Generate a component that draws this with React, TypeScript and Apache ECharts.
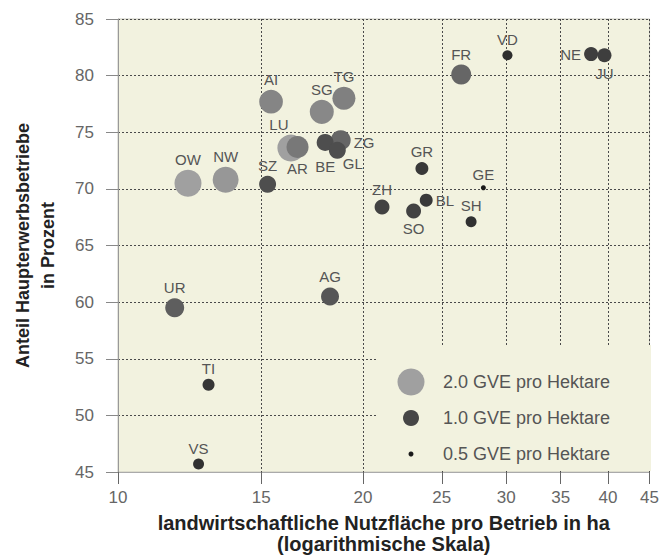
import React, { useEffect, useRef } from "react";
import * as echarts from "echarts";

// Cantons (draw order matters for overlaps)
const cantons = ["OW", "NW", "SZ", "AI", "LU", "AR", "SG", "TG", "ZG", "BE", "GL", "FR", "VD", "NE", "JU", "GR", "GE", "ZH", "BL", "SO", "SH", "UR", "AG", "TI", "VS"];
// landwirtschaftliche Nutzfläche pro Betrieb (ha)
const farmArea = [12.19, 13.56, 15.27, 15.42, 16.31, 16.62, 17.8, 18.95, 18.78, 17.97, 18.6, 26.41, 30.1, 38.14, 39.61, 23.63, 28.12, 21.11, 23.92, 23.08, 27.16, 11.74, 18.22, 12.92, 12.56];
// Anteil Haupterwerbsbetriebe (%)
const fullTimeShare = [70.5, 70.8, 70.4, 77.7, 73.6, 73.7, 76.8, 78.0, 74.3, 74.1, 73.4, 80.1, 81.8, 81.9, 81.8, 71.8, 70.1, 68.4, 69.0, 68.05, 67.1, 59.5, 60.5, 52.7, 45.7];
// GVE pro Hektare
const livestockDensity = [2.0, 1.9, 1.09, 1.7, 2.0, 1.55, 1.73, 1.64, 1.36, 1.09, 1.09, 1.36, 0.73, 0.91, 0.91, 0.86, 0.5, 0.95, 0.86, 0.95, 0.77, 1.27, 1.18, 0.82, 0.77];

const xTickValues = [10, 15, 20, 25, 30, 35, 40, 45];
const legendDensities = [2.0, 1.0, 0.5];
const legendLabels = ["2.0 GVE pro Hektare", "1.0 GVE pro Hektare", "0.5 GVE pro Hektare"];

const FONT = '"Liberation Sans", Arial, Helvetica, sans-serif';
const PLOT_BG = "#f2f2df";

// label placement for each canton (default: top)
const labelPlacement: Record<string, { position: string; offset?: [number, number] }> = {
  LU: { position: "top", offset: [-12, 0] },
  AR: { position: "bottom" },
  BE: { position: "bottom", offset: [0, 5] },
  GL: { position: "right", offset: [-6, 13] },
  ZG: { position: "right", offset: [0, 2] },
  NE: { position: "left" },
  JU: { position: "bottom", offset: [0, 1] },
  BL: { position: "right" },
  SO: { position: "bottom" },
};

function sizeFor(g: number): number {
  if (g <= 1) return 5 + (g - 0.5) * 22;
  return 16 + (g - 1) * 11;
}
function colorFor(g: number): string {
  let v: number;
  if (g <= 1) v = 25 + (g - 0.5) * 90;
  else v = 70 + (g - 1) * 90;
  v = Math.max(0, Math.min(255, Math.round(v)));
  return `rgb(${v},${v},${v})`;
}

export default function App() {
  const ref = useRef<HTMLDivElement>(null);
  useEffect(() => {
    const chart = echarts.init(ref.current!, null, { renderer: "svg" });
    const data = cantons.map((name, i) => {
      const lp = labelPlacement[name] || { position: "top" };
      return {
        name,
        value: [farmArea[i], fullTimeShare[i], livestockDensity[i]],
        label: {
          show: true,
          position: lp.position,
          offset: lp.offset ? lp.offset : [0, 0],
        },
      };
    });

    const legendX = 411;
    const legendY = [382, 418, 454];
    const graphic: any[] = [
      {
        type: "rect",
        z: 10,
        silent: true,
        shape: { x: 378, y: 345, width: 273, height: 126 },
        style: { fill: PLOT_BG },
      },
    ];
    legendDensities.forEach((g, i) => {
      graphic.push({
        type: "circle",
        z: 11,
        silent: true,
        shape: { cx: legendX, cy: legendY[i], r: sizeFor(g) / 2 },
        style: { fill: colorFor(g) },
      });
      graphic.push({
        type: "text",
        z: 11,
        silent: true,
        x: 443,
        y: legendY[i],
        style: {
          text: legendLabels[i],
          fill: "#555",
          font: `18px ${FONT}`,
          verticalAlign: "middle",
          align: "left",
        },
      });
    });

    chart.setOption({
      animation: false,
      backgroundColor: "#ffffff",
      textStyle: { fontFamily: FONT },
      grid: {
        left: 118,
        right: 10,
        top: 19,
        bottom: 88,
        show: true,
        backgroundColor: PLOT_BG,
        borderColor: "#c8c8bc",
        borderWidth: 1,
      },
      xAxis: {
        type: "log",
        logBase: 10,
        min: 10,
        max: 45,
        name: "landwirtschaftliche Nutzfläche pro Betrieb in ha\n(logarithmische Skala)",
        nameLocation: "middle",
        nameGap: 40,
        nameTextStyle: { fontFamily: FONT, fontWeight: "bold", fontSize: 20, color: "#222", lineHeight: 21 },
        axisLine: { show: true, lineStyle: { color: "#aaa" } },
        axisTick: { show: true, length: 12, inside: false, customValues: xTickValues, lineStyle: { color: "#666" } },
        axisLabel: { customValues: xTickValues, margin: 17, fontSize: 17, color: "#666", fontFamily: FONT, formatter: (v: number) => String(Math.round(v)) },
        splitLine: { show: true, lineStyle: { color: "#4a4a4a", type: [2, 2], width: 1 } },
        minorTick: { show: false },
        minorSplitLine: { show: false },
      },
      yAxis: {
        type: "value",
        min: 45,
        max: 85,
        interval: 5,
        name: "Anteil Haupterwerbsbetriebe\nin Prozent",
        nameLocation: "middle",
        nameGap: 58,
        nameTextStyle: { fontFamily: FONT, fontWeight: "bold", fontSize: 18, color: "#222", lineHeight: 25 },
        axisLine: { show: true, lineStyle: { color: "#999" } },
        axisTick: { show: true, length: 12, lineStyle: { color: "#888" } },
        axisLabel: { margin: 24, fontSize: 17, color: "#666", fontFamily: FONT },
        splitLine: { show: true, lineStyle: { color: "#4a4a4a", type: [2, 2], width: 1 } },
      },
      series: [
        {
          type: "scatter",
          data,
          symbol: "circle",
          symbolSize: (v: number[]) => sizeFor(v[2]),
          itemStyle: { color: (p: any) => colorFor(p.value[2]), opacity: 1 },
          label: {
            show: true,
            formatter: "{b}",
            distance: 3,
            fontSize: 15,
            color: "#555",
            fontFamily: FONT,
          },
          emphasis: { disabled: true },
        },
      ],
      graphic,
    });
    return () => chart.dispose();
  }, []);
  return <div ref={ref} style={{ position: "fixed", left: 0, top: 0, width: 662, height: 560 }} />;
}
